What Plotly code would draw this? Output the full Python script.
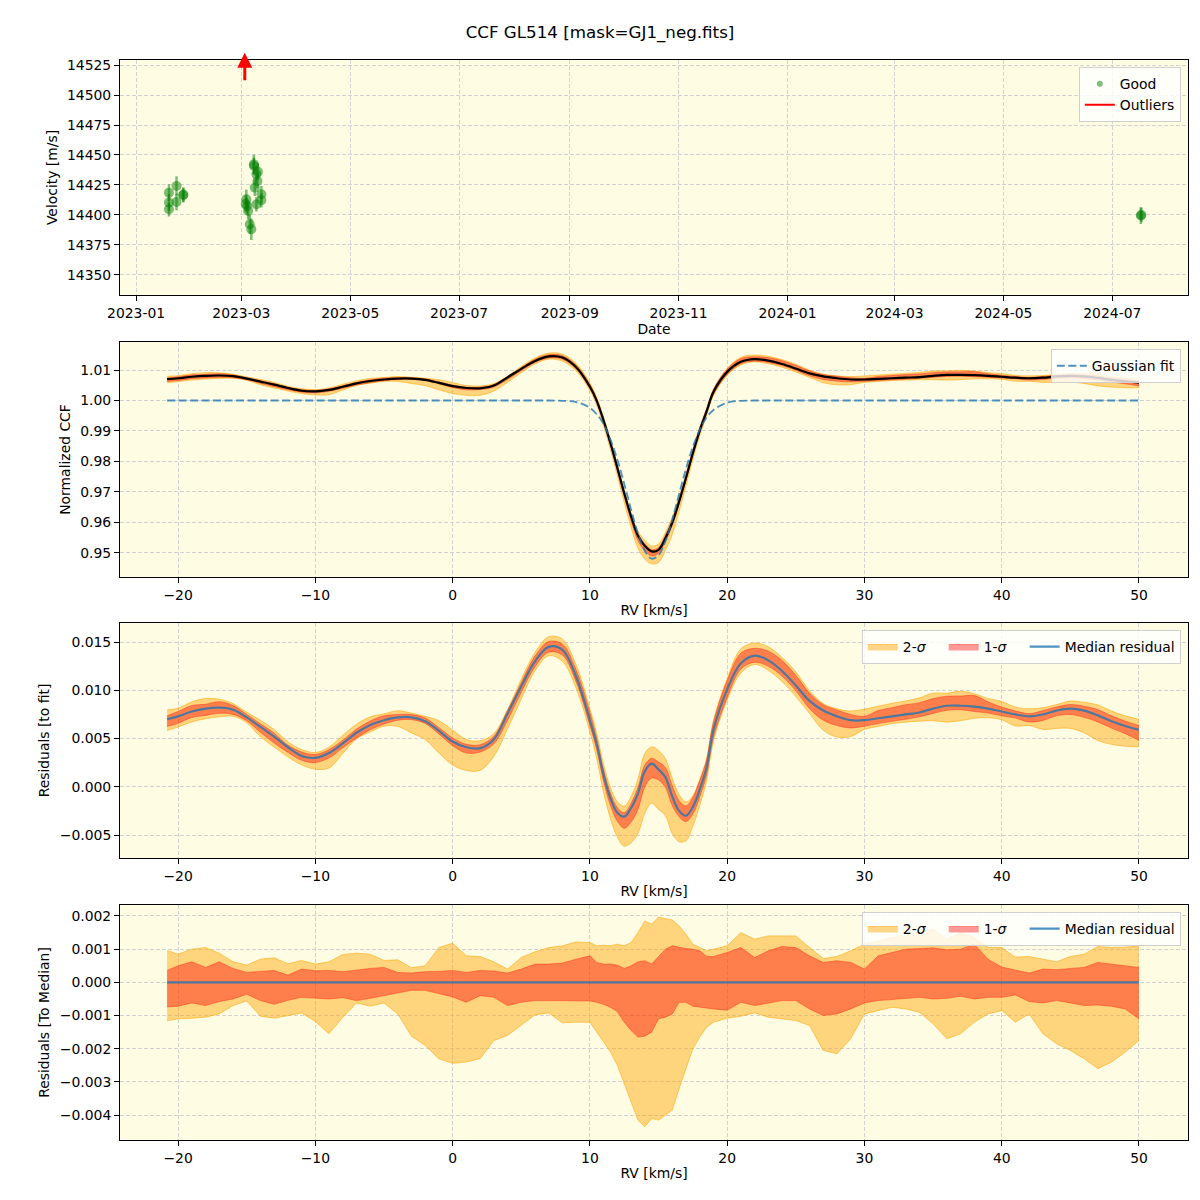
import numpy as np
import plotly.graph_objects as go

# ---------------- data ----------------
GOOD_DATES = ['2023-01-19 10:00', '2023-01-19 10:00', '2023-01-19 10:00', '2023-01-23 16:00', '2023-01-23 16:00',
              '2023-01-27 10:00', '2023-01-27 12:00',
              '2023-03-03 19:00', '2023-03-04 05:00', '2023-03-04 19:00', '2023-03-05 17:00', '2023-03-06 14:00',
              '2023-03-08 02:00', '2023-03-08 00:00', '2023-03-09 10:00', '2023-03-10 00:00', '2023-03-08 12:00',
              '2023-03-09 10:00', '2023-03-12 05:00', '2023-03-12 05:00', '2023-03-10 07:00', '2023-03-03 10:00',
              '2024-07-17 00:00', '2024-07-17 06:00']
GOOD_RV = [14418.6, 14410.3, 14404.7, 14424.2, 14410.8, 14416.4, 14417.0,
           14413.1, 14407.5, 14403.3, 14392.2, 14388.1, 14440.8, 14442.2, 14433.9, 14428.3, 14422.8,
           14408.9, 14417.2, 14412.2, 14436.1, 14409.4, 14399.5, 14400.0]
GOOD_ERR = [7, 7, 6, 8, 7, 6, 6, 8, 7, 7, 8, 9, 7, 8, 7, 6, 7, 6, 7, 6, 7, 7, 7, 6]
OUTLIER_DATE = '2023-03-02 22:00'

RV = [-20.8, -20, -19, -18, -17, -16, -15, -14, -13, -12, -11, -10, -9, -8, -7, -6, -5, -4, -3, -2, -1,
      0, 1, 2, 3, 4, 5, 6, 7, 8, 9, 10, 10.5, 11, 11.5, 12, 12.5, 13, 13.5, 14, 14.5, 15, 15.5, 16, 16.5,
      17, 17.5, 18, 18.5, 19, 20, 21, 22, 23, 24, 25, 26, 27, 28, 29, 30, 31, 32, 33, 34, 35, 36, 37, 38,
      39, 40, 41, 42, 43, 44, 45, 46, 47, 48, 49, 50]

GAUSS_FIT = [1.0, 1.0, 1.0, 1.0, 1.0, 1.0, 1.0, 1.0, 1.0, 1.0, 1.0, 1.0, 1.0, 1.0, 1.0, 1.0, 1.0, 1.0, 1.0, 1.0, 1.0,
             1.0, 1.0, 1.0, 1.0, 1.0, 1.0, 1.0, 1.0, 0.9999, 0.9995, 0.9976, 0.9955, 0.9922, 0.9872, 0.9806, 0.9727,
             0.9642, 0.9564, 0.9507, 0.9481, 0.9492, 0.9538, 0.9609, 0.9693, 0.9776, 0.9848, 0.9904, 0.9944, 0.9969,
             0.9993, 0.9999, 1.0, 1.0, 1.0, 1.0, 1.0, 1.0, 1.0, 1.0, 1.0, 1.0, 1.0, 1.0, 1.0, 1.0, 1.0, 1.0, 1.0,
             1.0, 1.0, 1.0, 1.0, 1.0, 1.0, 1.0, 1.0, 1.0, 1.0, 1.0, 1.0]

CCF_MEDIAN = [1.0070, 1.0073, 1.0078, 1.0081, 1.0082, 1.0080, 1.0072, 1.0062, 1.0052, 1.0041, 1.0032, 1.0030,
              1.0035, 1.0045, 1.0056, 1.0064, 1.0069, 1.0072, 1.0072, 1.0068, 1.0058, 1.0047, 1.0041, 1.0040,
              1.0049, 1.0076, 1.0104, 1.0130, 1.0145, 1.0141, 1.0109, 1.0045, 0.9999, 0.9934, 0.9860, 0.9779,
              0.9696, 0.9620, 0.9557, 0.9523, 0.9505, 0.9510, 0.9548, 0.9599, 0.9668, 0.9746, 0.9827, 0.9901,
              0.9964, 1.0028, 1.0094, 1.0127, 1.0136, 1.0131, 1.0120, 1.0105, 1.0089, 1.0079, 1.0073, 1.0069,
              1.0069, 1.0071, 1.0073, 1.0075, 1.0077, 1.0081, 1.0084, 1.0084, 1.0083, 1.0081, 1.0078, 1.0075,
              1.0073, 1.0075, 1.0079, 1.0081, 1.0079, 1.0074, 1.0068, 1.0063, 1.0059]

RES_MEDIAN = [0.0070, 0.0073, 0.0078, 0.0081, 0.0082, 0.0080, 0.0072, 0.0062, 0.0052, 0.0041, 0.0032, 0.0030,
              0.0035, 0.0045, 0.0056, 0.0064, 0.0069, 0.0072, 0.0072, 0.0068, 0.0058, 0.0047, 0.0041, 0.0040,
              0.0049, 0.0076, 0.0104, 0.0130, 0.0145, 0.0142, 0.0114, 0.0069, 0.0044, 0.0012, -0.0012, -0.0027,
              -0.0031, -0.0022, -0.0007, 0.0016, 0.0024, 0.0018, 0.0010, -0.0010, -0.0025, -0.0030, -0.0021,
              -0.0003, 0.0020, 0.0059, 0.0101, 0.0128, 0.0136, 0.0131, 0.0120, 0.0105, 0.0089, 0.0079, 0.0073,
              0.0069, 0.0069, 0.0071, 0.0073, 0.0075, 0.0077, 0.0081, 0.0084, 0.0084, 0.0083, 0.0081, 0.0078,
              0.0075, 0.0073, 0.0075, 0.0079, 0.0081, 0.0079, 0.0074, 0.0068, 0.0063, 0.0059]

# percentile offsets relative to the median residual, in units of 1e-3
OFF_HI2 = [0.96, 0.85, 1.00, 1.05, 0.88, 0.62, 0.52, 0.70, 0.74, 0.56, 0.66, 0.55, 0.62, 0.84, 0.88, 0.85, 0.66,
           0.68, 0.44, 0.50, 1.05, 1.18, 0.80, 0.78, 0.62, 0.40, 0.75, 0.92, 1.05, 1.10, 1.22, 1.20, 1.10, 1.12,
           1.10, 1.15, 1.10, 1.20, 1.50, 1.85, 1.75, 1.97, 1.92, 1.88, 1.70, 1.45, 1.15, 1.05, 0.95, 1.00, 1.10,
           1.50, 1.30, 1.40, 1.40, 1.40, 1.05, 0.72, 0.78, 0.95, 1.15, 1.25, 1.35, 1.40, 1.52, 1.60, 1.30, 1.50,
           1.35, 1.05, 1.05, 0.76, 0.78, 0.70, 0.62, 0.78, 0.85, 1.08, 1.05, 1.06, 1.10]
OFF_HI1 = [0.36, 0.50, 0.62, 0.45, 0.62, 0.42, 0.30, 0.32, 0.36, 0.22, 0.40, 0.35, 0.36, 0.32, 0.38, 0.42, 0.45,
           0.30, 0.28, 0.32, 0.33, 0.36, 0.30, 0.36, 0.34, 0.28, 0.40, 0.55, 0.55, 0.58, 0.70, 0.80, 0.60, 0.55,
           0.55, 0.52, 0.42, 0.50, 0.62, 0.65, 0.55, 0.76, 1.00, 1.10, 1.05, 1.02, 1.00, 0.95, 0.78, 0.78, 0.90,
           1.05, 0.75, 0.95, 1.08, 1.05, 0.80, 0.60, 0.65, 0.60, 0.40, 0.80, 0.90, 1.00, 1.02, 1.04, 0.98, 1.00,
           1.15, 0.70, 0.46, 0.36, 0.28, 0.40, 0.38, 0.42, 0.45, 0.60, 0.55, 0.50, 0.45]
OFF_LO1 = [-0.74, -0.72, -0.62, -0.70, -0.58, -0.50, -0.36, -0.55, -0.66, -0.54, -0.45, -0.48, -0.50, -0.46, -0.55,
           -0.48, -0.40, -0.30, -0.24, -0.24, -0.33, -0.44, -0.60, -0.40, -0.45, -0.70, -0.60, -0.55, -0.55, -0.56,
           -0.55, -0.56, -0.60, -0.66, -0.75, -0.88, -1.20, -1.45, -1.65, -1.62, -1.50, -1.10, -1.05, -0.95, -0.60,
           -0.60, -0.72, -0.75, -0.78, -0.80, -0.84, -0.60, -0.70, -0.62, -0.55, -0.55, -0.80, -1.00, -0.95, -0.80,
           -0.62, -0.55, -0.52, -0.50, -0.45, -0.50, -0.48, -0.42, -0.50, -0.45, -0.45, -0.38, -0.58, -0.62, -0.55,
           -0.62, -0.70, -0.68, -0.72, -0.80, -1.10]
OFF_LO2 = [-1.16, -1.10, -1.08, -1.05, -0.95, -0.70, -0.56, -1.02, -1.08, -1.00, -0.92, -1.18, -1.55, -1.05, -0.62,
           -0.72, -0.62, -0.95, -1.62, -1.90, -2.30, -2.44, -2.40, -2.30, -1.75, -1.60, -1.30, -0.98, -0.92, -1.22,
           -1.20, -1.20, -1.50, -1.80, -2.10, -2.50, -3.05, -3.60, -4.15, -4.35, -4.10, -4.15, -4.00, -3.85, -3.20,
           -2.60, -2.00, -1.65, -1.35, -1.20, -1.08, -1.02, -0.92, -1.05, -1.10, -1.15, -1.30, -2.05, -2.15, -1.70,
           -0.95, -0.85, -0.75, -0.80, -0.90, -1.25, -1.70, -1.55, -1.20, -0.95, -0.85, -1.20, -0.95, -1.55, -1.85,
           -2.05, -2.30, -2.60, -2.40, -2.10, -1.75]
ZERO_LINE = [0.0] * len(RV)

# ---------------- style ----------------
FONT = 'DejaVu Sans'
FS = 13.9
BG = '#fefce3'
ORANGE_FILL = 'rgba(255,165,0,0.45)'
ORANGE_EDGE = 'rgba(255,165,0,0.55)'
RED_FILL = 'rgba(255,0,0,0.4)'
RED_EDGE = 'rgba(255,40,20,0.45)'
BLUE = 'rgba(31,119,180,0.8)'
PAD = '\u00a0\u00a0\u00a0'

fig = go.Figure()

# Panel 1: RV time series
fig.add_trace(go.Scatter(
    x=GOOD_DATES, y=GOOD_RV, mode='markers', name='Good', showlegend=False,
    marker=dict(color='rgba(0,128,0,0.5)', size=10, line=dict(width=0)),
    error_y=dict(type='data', array=GOOD_ERR, color='rgba(0,128,0,0.5)', thickness=2.5, width=0),
    xaxis='x', yaxis='y'))
fig.add_trace(go.Scatter(
    x=[None], y=[None], mode='markers', name='Good',
    marker=dict(color='rgba(0,128,0,0.5)', size=6, line=dict(width=0)),
    xaxis='x', yaxis='y', legend='legend'))
fig.add_trace(go.Scatter(
    x=[None], y=[None], mode='lines', name='Outliers',
    line=dict(color='red', width=2), xaxis='x', yaxis='y', legend='legend'))


def add_bands(center, xa, ya, leg, show, shape):
    c = np.array(center)
    lo2 = c + np.array(OFF_LO2) * 1e-3
    hi2 = c + np.array(OFF_HI2) * 1e-3
    lo1 = c + np.array(OFF_LO1) * 1e-3
    hi1 = c + np.array(OFF_HI1) * 1e-3
    fig.add_trace(go.Scatter(x=RV, y=lo2, mode='lines', line=dict(color=ORANGE_EDGE, width=1, shape=shape),
                             showlegend=False, hoverinfo='skip', xaxis=xa, yaxis=ya))
    fig.add_trace(go.Scatter(x=RV, y=hi2, mode='lines', line=dict(color=ORANGE_EDGE, width=1, shape=shape),
                             fill='tonexty', fillcolor=ORANGE_FILL, name='2-<i>σ</i>' + PAD, showlegend=show,
                             legend=leg, xaxis=xa, yaxis=ya))
    fig.add_trace(go.Scatter(x=RV, y=lo1, mode='lines', line=dict(color=RED_EDGE, width=1, shape=shape),
                             showlegend=False, hoverinfo='skip', xaxis=xa, yaxis=ya))
    fig.add_trace(go.Scatter(x=RV, y=hi1, mode='lines', line=dict(color=RED_EDGE, width=1, shape=shape),
                             fill='tonexty', fillcolor=RED_FILL, name='1-<i>σ</i>' + PAD, showlegend=show,
                             legend=leg, xaxis=xa, yaxis=ya))


# Panel 2: CCF
add_bands(CCF_MEDIAN, 'x2', 'y2', 'legend2', False, 'spline')
fig.add_trace(go.Scatter(x=RV, y=CCF_MEDIAN, mode='lines', line=dict(color='black', width=2.2, shape='spline'),
                         showlegend=False, xaxis='x2', yaxis='y2'))
fig.add_trace(go.Scatter(x=RV, y=GAUSS_FIT, mode='lines', name='Gaussian fit',
                         line=dict(color=BLUE, width=1.8, dash='8px,3.5px', shape='spline'),
                         xaxis='x2', yaxis='y2', legend='legend2'))

# Panel 3: residuals to fit
add_bands(RES_MEDIAN, 'x3', 'y3', 'legend3', True, 'spline')
fig.add_trace(go.Scatter(x=RV, y=RES_MEDIAN, mode='lines', name='Median residual',
                         line=dict(color=BLUE, width=2.2, shape='spline'),
                         xaxis='x3', yaxis='y3', legend='legend3'))

# Panel 4: residuals to median
add_bands(ZERO_LINE, 'x4', 'y4', 'legend4', True, 'linear')
fig.add_trace(go.Scatter(x=RV, y=ZERO_LINE, mode='lines', name='Median residual',
                         line=dict(color=BLUE, width=2.2),
                         xaxis='x4', yaxis='y4', legend='legend4'))


def axstyle(**kw):
    d = dict(showline=True, mirror=True, linecolor='black', linewidth=1, ticks='outside', ticklen=5,
             tickwidth=1, tickcolor='black', showgrid=True, gridcolor='#d2d2d2', griddash='4px,2px',
             gridwidth=1, zeroline=False, automargin=False,
             tickfont=dict(family=FONT, size=FS, color='black'),
             title_font=dict(family=FONT, size=FS, color='black'))
    d.update(kw)
    return d


XD = [0.1, 0.99]
rv_range = [-24.23, 53.57]

fig.update_layout(
    width=1200, height=1200,
    margin=dict(l=0, r=0, t=0, b=0, autoexpand=False),
    paper_bgcolor='white', plot_bgcolor=BG,
    font=dict(family=FONT, size=FS, color='black'),
    title=dict(text='CCF GL514 [mask=GJ1_neg.fits]', x=0.5, y=0.973, xref='paper', yref='paper',
               xanchor='center', yanchor='middle',
               font=dict(family=FONT, size=16.7, color='black')),
    xaxis=axstyle(domain=XD, anchor='y', type='date', range=['2022-12-23', '2024-08-12 10:00'],
                  dtick='M2', tick0='2023-01-01', tickformat='%Y-%m',
                  title=dict(text='Date', standoff=3)),
    yaxis=axstyle(domain=[0.7542, 0.95], anchor='x', range=[14333.3, 14529.2], dtick=25, tickformat='d',
                  title=dict(text='Velocity [m/s]', standoff=6)),
    xaxis2=axstyle(domain=XD, anchor='y2', range=rv_range, dtick=10,
                   title=dict(text='RV [km/s]', standoff=3)),
    yaxis2=axstyle(domain=[0.5192, 0.715], anchor='x2', range=[0.9421, 1.0192], dtick=0.01,
                   tickformat='.2f', title=dict(text='Normalized CCF', standoff=6)),
    xaxis3=axstyle(domain=XD, anchor='y3', range=rv_range, dtick=10,
                   title=dict(text='RV [km/s]', standoff=3)),
    yaxis3=axstyle(domain=[0.285, 0.4808], anchor='x3', range=[-0.00738, 0.01697], dtick=0.005,
                   tickformat='.3f', title=dict(text='Residuals [to fit]', standoff=6)),
    xaxis4=axstyle(domain=XD, anchor='y4', range=rv_range, dtick=10,
                   title=dict(text='RV [km/s]', standoff=3)),
    yaxis4=axstyle(domain=[0.05, 0.2458], anchor='x4', range=[-0.00475, 0.00233], dtick=0.001,
                   tickformat='.3f', title=dict(text='Residuals [To Median]', standoff=6)),
)

leg_common = dict(xanchor='right', yanchor='top', bgcolor='rgba(255,255,255,0.8)', bordercolor='#d0d0d0',
                  borderwidth=1, traceorder='normal', font=dict(family=FONT, size=FS, color='black'))
fig.update_layout(
    legend=dict(x=0.984, y=0.944, tracegroupgap=0, **leg_common),
    legend2=dict(x=0.984, y=0.709, **leg_common),
    legend3=dict(x=0.984, y=0.475, orientation='h', **leg_common),
    legend4=dict(x=0.984, y=0.24, orientation='h', **leg_common),
)

# outlier arrow (value beyond the top of the axis)
fig.add_annotation(x=OUTLIER_DATE, xref='x', y=0.956, yref='paper', ax=0, ay=29, axref='pixel', ayref='pixel',
                   showarrow=True, arrowhead=2, arrowsize=1, arrowwidth=3, arrowcolor='red', text='')

fig.write_html('out.html', config={'displayModeBar': False},
               post_script="document.body.style.margin='0px';"
                           "document.body.style.overflow='hidden';")
